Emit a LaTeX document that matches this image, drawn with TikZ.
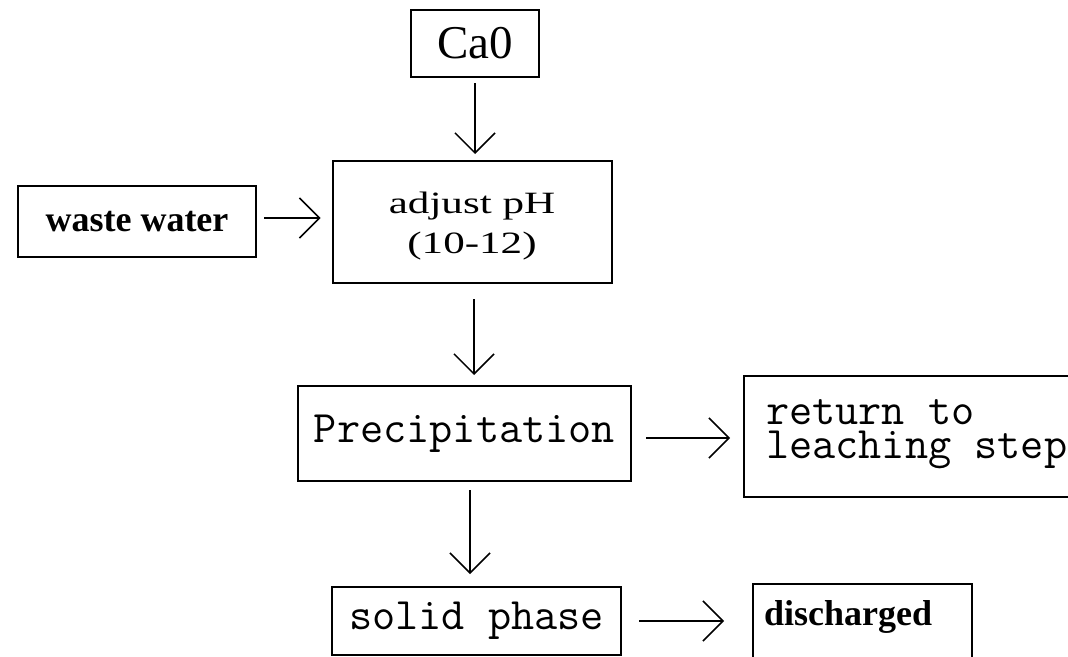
\documentclass[tikz,border=0pt]{standalone}
\usepackage{fontspec}
\setmainfont{Liberation Serif}
\newfontfamily\wideserif[FakeStretch=1.39]{Liberation Serif}
\usetikzlibrary{arrows.meta}

\begin{document}
\begin{tikzpicture}[x=1pt, y=-1pt,
	box/.style={draw, line width=2pt, inner sep=0pt},
	mono/.style={font=\ttfamily\fontsize{45}{34}\selectfont},
	flow/.style={line width=1.5pt, -{Straight Barb[length=20pt, width=40pt]}}]
	\useasboundingbox (0,0) rectangle (1068,656);
	\node[box, minimum width=128pt, minimum height=67pt, font=\fontsize{47}{50}\selectfont] (cao) at (475,43.5) {Ca0};
	\node[box, minimum width=279pt, minimum height=122pt, align=center, font=\wideserif\fontsize{31}{40}\selectfont] (adj) at (472,222) {\rule{0pt}{29pt}adjust pH\\(10-12)};
	\node[box, minimum width=238pt, minimum height=71pt, font=\bfseries\fontsize{36}{40}\selectfont] (ww) at (137,221.5) {waste water};
	\node[box, mono, minimum width=333pt, minimum height=95pt] (prec) at (464.5,433.5) {Precipitation};
	\node[box, mono, anchor=north west, text width=400pt, align=left, inner xsep=22pt, text height=48pt, text depth=73pt] (ret) at (743,375) {\spaceskip=0pt return to\\leaching step};
	\node[box, mono, minimum width=289pt, minimum height=68pt] (solid) at (476.5,621) {solid phase};
	\node[box, anchor=north west, text width=197pt, align=left, inner xsep=11pt, text height=41pt, text depth=80pt, font=\bfseries\fontsize{36}{40}\selectfont] (dis) at (752,583) {discharged};

	\draw[flow, shorten <=5pt, shorten >=6pt] (cao.south) -- (cao.south |- adj.north);
	\draw[flow, shorten <=7pt, shorten >=11pt] ([yshift=3.5pt]ww.east) -- ([yshift=3.5pt]ww.east -| adj.west);
	\draw[flow, shorten <=15pt, shorten >=10pt] ([xshift=2pt]adj.south) -- ([xshift=2pt]adj.south |- prec.north);
	\draw[flow, shorten <=8pt, shorten >=12pt] ([xshift=5.5pt]prec.south) -- ([xshift=5.5pt]prec.south |- solid.north);
	\draw[flow, shorten <=14pt, shorten >=13pt] ([yshift=-4.5pt]prec.east) -- ([yshift=-4.5pt]prec.east -| ret.west);
	\draw[flow, shorten <=17pt, shorten >=28pt] (solid.east) -- (solid.east -| dis.west);
\end{tikzpicture}
\end{document}
